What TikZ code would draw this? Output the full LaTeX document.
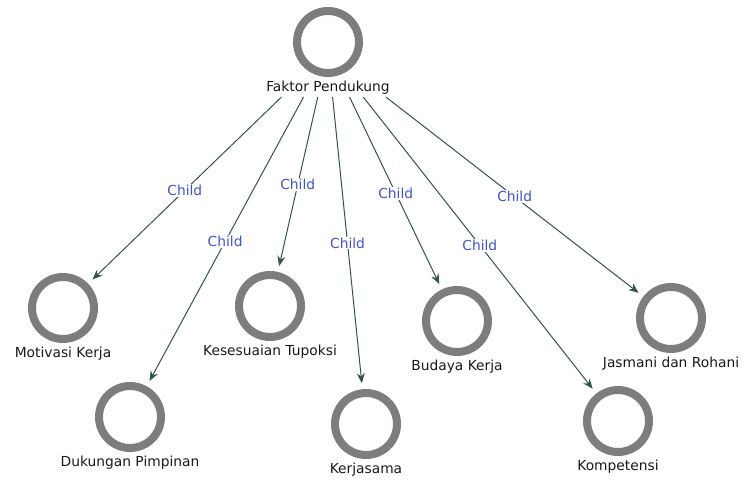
\documentclass[tikz,border=0pt]{standalone}
\usepackage{fontspec}
\setmainfont{DejaVu Sans}
\usetikzlibrary{positioning,fit,arrows.meta}

\definecolor{ringgrey}{RGB}{125,125,125}
\definecolor{edgegreen}{RGB}{50,85,75}
\definecolor{childblue}{RGB}{65,85,200}

\begin{document}
\begin{tikzpicture}[x=1pt,y=1pt,
  ring/.style={circle,draw=ringgrey,line width=8pt,minimum size=62pt,inner sep=0pt},
  lbl/.style={text=black!90,font=\fontsize{13.8}{16}\selectfont,text height=10.5pt,text depth=3pt,inner sep=2pt},
  childedge/.style={draw=edgegreen,line width=1pt,-{Stealth[length=10pt,width=8pt]},shorten >=6pt},
  childtag/.style={fill=white,text=childblue,font=\fontsize{13.8}{16}\selectfont,inner sep=1pt}]
\useasboundingbox (0,0) rectangle (745,-481);

\node[ring] (root-ring) at (328,-42) {};
\node[lbl,below=2pt of root-ring] (root-label) {Faktor Pendukung};
\node[fit=(root-ring)(root-label),inner sep=0pt] (root) {};

\node[ring] (motivasi) at (63,-308) {};
\node[lbl,below=2pt of motivasi] (motivasi-label) {Motivasi Kerja};

\node[ring] (dukungan) at (130,-417) {};
\node[lbl,below=2pt of dukungan] (dukungan-label) {Dukungan Pimpinan};

\node[ring] (tupoksi) at (270,-306) {};
\node[lbl,below=2pt of tupoksi] (tupoksi-label) {Kesesuaian Tupoksi};

\node[ring] (kerjasama) at (366,-424) {};
\node[lbl,below=2pt of kerjasama] (kerjasama-label) {Kerjasama};

\node[ring] (budaya) at (457,-321) {};
\node[lbl,below=2pt of budaya] (budaya-label) {Budaya Kerja};

\node[ring] (kompetensi) at (618,-421) {};
\node[lbl,below=2pt of kompetensi] (kompetensi-label) {Kompetensi};

\node[ring] (jasmani) at (671,-318) {};
\node[lbl,below=2pt of jasmani] (jasmani-label) {Jasmani dan Rohani};

\draw[childedge] (root) -- node[childtag] {Child} (motivasi);
\draw[childedge] (root) -- node[childtag] {Child} (dukungan);
\draw[childedge] (root) -- node[childtag] {Child} (tupoksi);
\draw[childedge] (root) -- node[childtag] {Child} (kerjasama);
\draw[childedge] (root) -- node[childtag] {Child} (budaya);
\draw[childedge] (root) -- node[childtag] {Child} (kompetensi);
\draw[childedge] (root) -- node[childtag] {Child} (jasmani);

\end{tikzpicture}
\end{document}
